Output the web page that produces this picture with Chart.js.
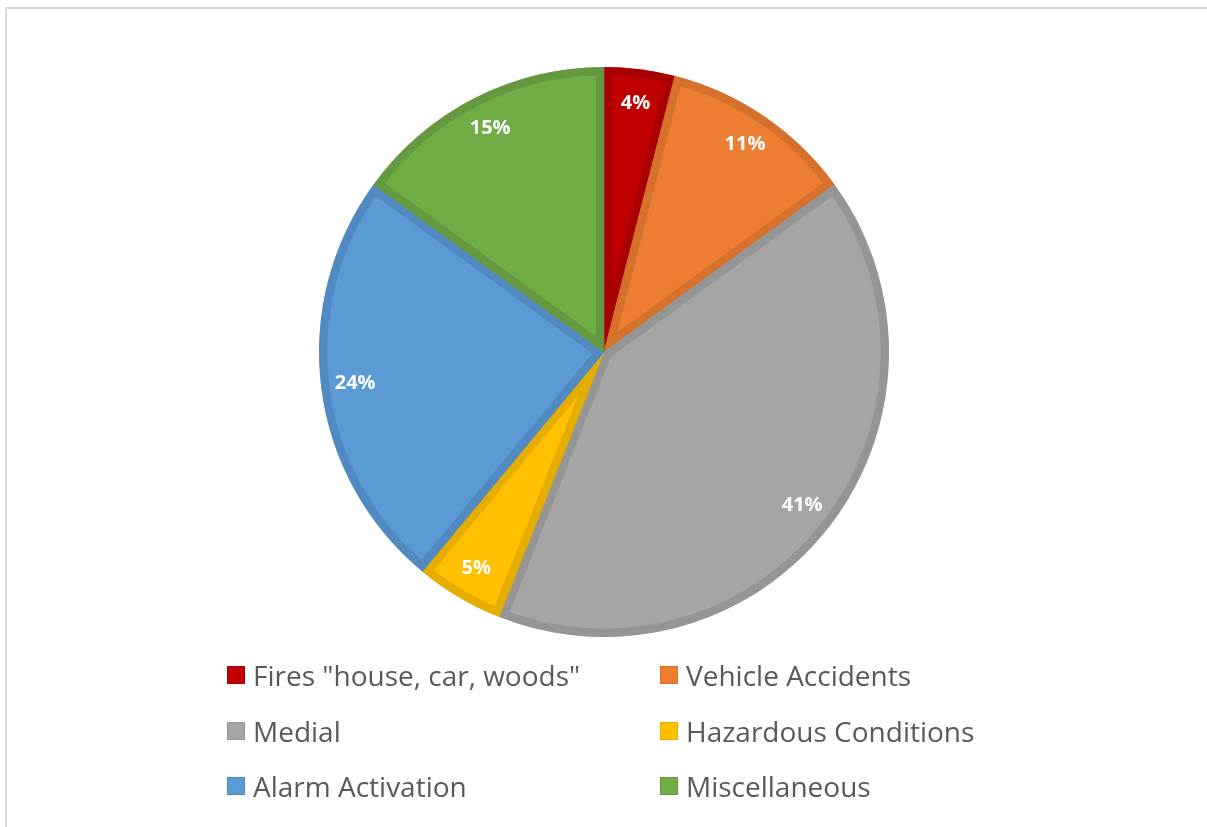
<!DOCTYPE html>
<html>
<head>
<meta charset="utf-8">
<script src="https://cdn.jsdelivr.net/npm/chart.js@4"></script>
<style>
  html, body { margin: 0; padding: 0; background: #fff; overflow: hidden; }
  #wrap { position: relative; width: 1207px; height: 827px; }
  #frame { position: absolute; left: 5px; top: 7px; width: 1300px; height: 900px;
           border-left: 2px solid #d9d9d9; border-top: 2px solid #d9d9d9; }
  canvas { position: absolute; left: 0; top: 0; }
  #legend { position: absolute; left: 227px; top: 656px; display: grid;
            grid-template-columns: 433px 400px; grid-auto-rows: 55.5px;
            font-family: "Open Sans", sans-serif; font-size: 28px; color: #595959; }
  .item { display: flex; align-items: center; height: 38px; white-space: nowrap; }
  .box { width: 18px; height: 18px; margin-right: 8px; box-sizing: border-box; }
</style>
</head>
<body>
<div id="wrap">
  <div id="frame"></div>
  <canvas id="myChart" width="1207" height="827"></canvas>
  <div id="legend"></div>
</div>
<script>
// data
const categories = ['Fires "house, car, woods"', 'Vehicle Accidents', 'Medial', 'Hazardous Conditions', 'Alarm Activation', 'Miscellaneous'];
const shares = [4, 11, 41, 5, 24, 15];

// colours
const fillColors = ['#C00000', '#ED7D31', '#A5A5A5', '#FFC000', '#5B9BD5', '#70AD47'];
const edgeColors = ['#A80000', '#D5712C', '#959595', '#E5AD00', '#5189C1', '#66993F'];

// white percentage labels inside the slices
const sliceLabels = {
  id: 'sliceLabels',
  afterDatasetsDraw(chart) {
    const { ctx } = chart;
    const meta = chart.getDatasetMeta(0);
    ctx.save();
    ctx.font = 'bold 20px "Open Sans", sans-serif';
    ctx.fillStyle = '#FFFFFF';
    ctx.textAlign = 'center';
    ctx.textBaseline = 'middle';
    meta.data.forEach((arc, i) => {
      const { x, y, startAngle, endAngle, outerRadius } = arc.getProps(['x', 'y', 'startAngle', 'endAngle', 'outerRadius'], true);
      const mid = (startAngle + endAngle) / 2;
      const r = outerRadius * 0.88;
      ctx.fillText(shares[i] + '%', x + Math.cos(mid) * r, y + Math.sin(mid) * r);
    });
    ctx.restore();
  }
};

const config = {
  type: 'pie',
  data: {
    labels: categories,
    datasets: [{
      data: shares,
      backgroundColor: fillColors,
      borderColor: edgeColors,
      borderWidth: 8,
      borderAlign: 'inner'
    }]
  },
  options: {
    responsive: false,
    animation: false,
    radius: 285,
    layout: { padding: { top: 0, bottom: 123, left: 1, right: 0 } },
    plugins: {
      legend: { display: false },
      tooltip: { enabled: false }
    }
  },
  plugins: [sliceLabels]
};

const myChart = new Chart(document.getElementById('myChart'), config);

// legend, two columns
const legend = document.getElementById('legend');
categories.forEach((name, i) => {
  const item = document.createElement('div');
  item.className = 'item';
  const box = document.createElement('span');
  box.className = 'box';
  box.style.background = fillColors[i];
  box.style.border = '1px solid ' + edgeColors[i];
  item.appendChild(box);
  item.appendChild(document.createTextNode(name));
  legend.appendChild(item);
});
</script>
</body>
</html>
